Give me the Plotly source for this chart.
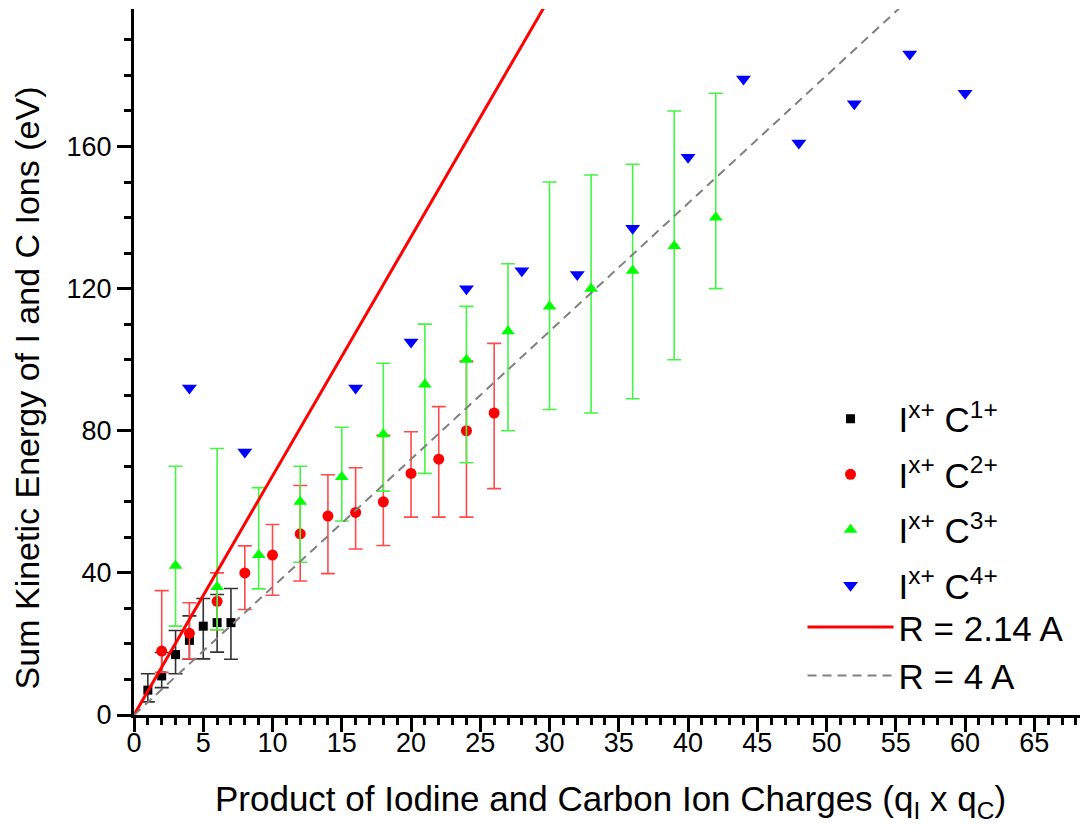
import plotly.graph_objects as go

# ---- data ----
c1_x = [1, 2, 3, 4, 5, 6, 7]
c1_y = [7, 11, 17, 21, 25, 26, 26]
c1_plus = [4.6, 6.6, 6.8, 6.9, 7.8, 7.9, 9.6]
c1_minus = [3.3, 3.3, 5.4, 5.3, 9.2, 8.3, 10.3]

c2_x = [2, 4, 6, 8, 10, 12, 14, 16, 18, 20, 22, 24, 26]
c2_y = [18, 23, 32, 40, 45, 51, 56, 57, 60, 68, 72, 80, 85]
c2_plus = [17, 8.6, 8, 7.6, 8.6, 13.6, 11.6, 12.6, 18.7, 11.7, 14.8, 19.6, 19.6]
c2_minus = [6, 7.2, 8, 10.3, 11.3, 13.3, 16.2, 10.3, 12.3, 12.3, 16.3, 24.3, 21.3]

c3_x = [3, 6, 9, 12, 15, 18, 21, 24, 27, 30, 33, 36, 39, 42]
c3_y = [42, 36, 45, 60, 67, 79, 93, 100, 108, 115, 120, 125, 132, 140]
c3_plus = [28, 39, 19, 10, 14, 20, 17, 15, 19, 35, 32, 30, 38, 35]
c3_minus = [17, 12, 9.5, 17, 12.4, 16, 25, 29, 28, 29, 35, 36, 32, 20]

c4_x = [4, 8, 16, 20, 24, 28, 32, 36, 40, 44, 48, 52, 56, 60]
c4_y = [92, 74, 92, 105, 120, 125, 124, 137, 157, 179, 161, 172, 186, 175]

# Coulomb explosion lines: E = 14.4 * q1*q2 / R  (eV, R in Angstrom)
line_x = [0, 70]
R_short = 2.14
R_long = 4.0
line_short_y = [14.4 / R_short * v for v in line_x]
line_long_y = [14.4 / R_long * v for v in line_x]

labels = ["I<sup>x+</sup> C<sup>1+</sup>", "I<sup>x+</sup> C<sup>2+</sup>",
          "I<sup>x+</sup> C<sup>3+</sup>", "I<sup>x+</sup> C<sup>4+</sup>",
          "R = 2.14 A", "R = 4 A"]
x_title = "Product of Iodine and Carbon Ion Charges (q<sub>I</sub> x q<sub>C</sub>)"
y_title = "Sum Kinetic Energy of I and C Ions (eV)"

XR = [0, 68.8]
YR = [0, 198.7]
FONT = "Liberation Sans, Arial, sans-serif"

fig = go.Figure()

fig.add_trace(go.Scatter(
    x=c1_x, y=c1_y, mode="markers", name=labels[0], legendgroup="g1",
    marker=dict(symbol="square", size=9, color="black"),
    error_y=dict(type="data", symmetric=False, array=c1_plus, arrayminus=c1_minus,
                 color="#333333", thickness=1.6, width=7)))
fig.add_trace(go.Scatter(
    x=c2_x, y=c2_y, mode="markers", name=labels[1], legendgroup="g2",
    marker=dict(symbol="circle", size=11, color="#FF0000"),
    error_y=dict(type="data", symmetric=False, array=c2_plus, arrayminus=c2_minus,
                 color="#FF4A4A", thickness=1.6, width=7)))
fig.add_trace(go.Scatter(
    x=c3_x, y=c3_y, mode="markers", name=labels[2], legendgroup="g3",
    marker=dict(symbol="triangle-up", size=12, color="#00FF00"),
    error_y=dict(type="data", symmetric=False, array=c3_plus, arrayminus=c3_minus,
                 color="#44F544", thickness=1.6, width=7)))
fig.add_trace(go.Scatter(
    x=c4_x, y=c4_y, mode="markers", name=labels[3], legendgroup="g4",
    marker=dict(symbol="triangle-down", size=13, color="#0000FF")))
fig.add_trace(go.Scatter(
    x=line_x, y=line_short_y, mode="lines", name=labels[4], legend="legend2",
    line=dict(color="#FF0000", width=3)))
fig.add_trace(go.Scatter(
    x=line_x, y=line_long_y, mode="lines", name=labels[5], legend="legend2",
    line=dict(color="#808080", width=2, dash="9px,6px")))

axis_common = dict(showline=True, linewidth=3, linecolor="black", showgrid=False,
                   zeroline=False, automargin=False)

fig.update_layout(
    width=1080, height=817,
    margin=dict(l=126, r=1, t=1, b=110),
    paper_bgcolor="white", plot_bgcolor="white",
    font=dict(family=FONT, size=28, color="black"),
    xaxis=dict(range=XR, dtick=5, tick0=0, ticks="outside", ticklen=14, tickwidth=3,
               tickcolor="black", ticklabelstandoff=-12,
               minor=dict(dtick=1, ticks="outside", ticklen=7, tickwidth=2.5, tickcolor="black"),
               tickfont=dict(size=27),
               title=dict(text=x_title, font=dict(size=35), standoff=30),
               **axis_common),
    yaxis=dict(range=YR, dtick=40, tick0=0, ticks="outside", ticklen=14, tickwidth=3,
               tickcolor="black",
               minor=dict(dtick=10, ticks="outside", ticklen=7, tickwidth=2.5, tickcolor="black"),
               tickfont=dict(size=27),
               **axis_common),
    xaxis2=dict(range=XR, overlaying="x", anchor="y", side="top", dtick=5, tick0=0,
                ticks="inside", ticklen=14, tickwidth=3, tickcolor="black",
                minor=dict(dtick=1, ticks="inside", ticklen=7, tickwidth=2.5, tickcolor="black"),
                showticklabels=False, **axis_common),
    yaxis2=dict(range=YR, overlaying="y", anchor="x", side="right", dtick=40, tick0=0,
                ticks="inside", ticklen=14, tickwidth=3, tickcolor="black",
                minor=dict(dtick=10, ticks="inside", ticklen=7, tickwidth=2.5, tickcolor="black"),
                showticklabels=False, **axis_common),
    legend=dict(x=0.7015, y=0.461, xanchor="left", yanchor="top",
                bgcolor="rgba(0,0,0,0)", font=dict(size=35), itemwidth=86,
                tracegroupgap=7),
    legend2=dict(x=0.7015, y=0.166, xanchor="left", yanchor="top",
                 bgcolor="rgba(0,0,0,0)", font=dict(size=35), itemwidth=86),
    showlegend=True,
    annotations=[dict(text=y_title, textangle=-90, xref="paper", yref="paper",
                      x=-0.112, y=0.463, xanchor="center", yanchor="middle",
                      showarrow=False, font=dict(size=34))],
)

fig.write_html("out.html")
